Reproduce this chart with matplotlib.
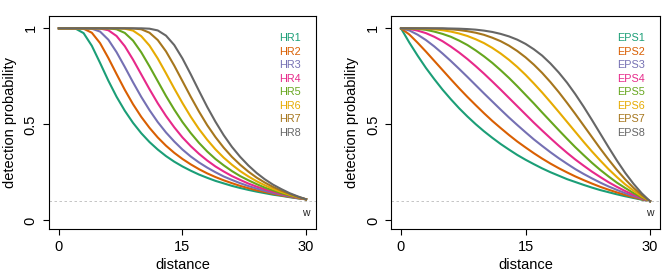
import matplotlib
matplotlib.use("Agg")
import matplotlib.pyplot as plt

plt.rcParams['font.family'] = ['Liberation Sans', 'DejaVu Sans']

# distances 0..30 and detection probabilities
distance = list(range(31))

hr1 = [1.000, 1.000, 0.999, 0.975, 0.909, 0.820, 0.728, 0.644, 0.571, 0.508, 0.454, 0.408, 0.369, 0.335, 0.306, 0.281,
       0.259, 0.239, 0.222, 0.206, 0.193, 0.180, 0.169, 0.159, 0.150, 0.142, 0.134, 0.128, 0.121, 0.115, 0.110]
hr2 = [1.000, 1.000, 1.000, 0.998, 0.977, 0.923, 0.846, 0.762, 0.680, 0.605, 0.539, 0.482, 0.432, 0.389, 0.352, 0.320,
       0.292, 0.267, 0.245, 0.226, 0.209, 0.194, 0.180, 0.168, 0.157, 0.148, 0.139, 0.130, 0.123, 0.116, 0.110]
hr3 = [1.000, 1.000, 1.000, 1.000, 0.998, 0.983, 0.941, 0.876, 0.799, 0.719, 0.643, 0.574, 0.512, 0.458, 0.411, 0.369,
       0.333, 0.302, 0.275, 0.251, 0.229, 0.211, 0.194, 0.179, 0.166, 0.154, 0.143, 0.134, 0.125, 0.117, 0.110]
hr4 = [1.000, 1.000, 1.000, 1.000, 1.000, 0.999, 0.990, 0.960, 0.907, 0.837, 0.760, 0.683, 0.610, 0.544, 0.485, 0.432,
       0.387, 0.347, 0.312, 0.281, 0.255, 0.231, 0.211, 0.192, 0.176, 0.162, 0.149, 0.138, 0.128, 0.118, 0.110]
hr5 = [1.000, 1.000, 1.000, 1.000, 1.000, 1.000, 1.000, 0.995, 0.976, 0.936, 0.875, 0.802, 0.725, 0.648, 0.577, 0.512,
       0.455, 0.404, 0.359, 0.320, 0.287, 0.257, 0.231, 0.209, 0.189, 0.171, 0.156, 0.142, 0.130, 0.120, 0.110]
hr6 = [1.000, 1.000, 1.000, 1.000, 1.000, 1.000, 1.000, 1.000, 0.998, 0.988, 0.959, 0.910, 0.843, 0.766, 0.687, 0.611,
       0.540, 0.476, 0.420, 0.370, 0.327, 0.290, 0.257, 0.229, 0.204, 0.183, 0.164, 0.148, 0.134, 0.121, 0.110]
hr7 = [1.000, 1.000, 1.000, 1.000, 1.000, 1.000, 1.000, 1.000, 1.000, 0.999, 0.995, 0.977, 0.939, 0.880, 0.806, 0.725,
       0.644, 0.567, 0.496, 0.434, 0.379, 0.331, 0.290, 0.254, 0.223, 0.197, 0.174, 0.155, 0.138, 0.123, 0.110]
hr8 = [1.000, 1.000, 1.000, 1.000, 1.000, 1.000, 1.000, 1.000, 1.000, 1.000, 1.000, 0.998, 0.989, 0.962, 0.913, 0.843,
       0.761, 0.675, 0.591, 0.514, 0.444, 0.383, 0.331, 0.286, 0.247, 0.214, 0.186, 0.163, 0.142, 0.125, 0.110]

eps1 = [1.000, 0.926, 0.858, 0.794, 0.736, 0.681, 0.631, 0.584, 0.541, 0.501, 0.464, 0.430, 0.398, 0.369, 0.341, 0.316,
        0.293, 0.271, 0.251, 0.233, 0.215, 0.200, 0.185, 0.171, 0.158, 0.147, 0.136, 0.126, 0.117, 0.108, 0.100]
eps2 = [1.000, 0.968, 0.925, 0.879, 0.831, 0.783, 0.735, 0.688, 0.643, 0.600, 0.558, 0.518, 0.481, 0.445, 0.411, 0.380,
        0.350, 0.322, 0.296, 0.272, 0.250, 0.229, 0.210, 0.192, 0.175, 0.160, 0.146, 0.133, 0.121, 0.110, 0.100]
eps3 = [1.000, 0.989, 0.967, 0.939, 0.906, 0.869, 0.830, 0.789, 0.747, 0.704, 0.661, 0.619, 0.577, 0.536, 0.497, 0.459,
        0.422, 0.388, 0.355, 0.324, 0.295, 0.267, 0.242, 0.219, 0.197, 0.177, 0.159, 0.142, 0.127, 0.113, 0.100]
eps4 = [1.000, 0.997, 0.988, 0.975, 0.956, 0.933, 0.905, 0.874, 0.840, 0.803, 0.764, 0.723, 0.681, 0.638, 0.595, 0.552,
        0.509, 0.468, 0.428, 0.389, 0.352, 0.317, 0.285, 0.254, 0.226, 0.199, 0.175, 0.153, 0.134, 0.116, 0.100]
eps5 = [1.000, 0.999, 0.997, 0.992, 0.983, 0.971, 0.956, 0.936, 0.913, 0.885, 0.854, 0.820, 0.782, 0.742, 0.699, 0.654,
        0.609, 0.562, 0.516, 0.470, 0.425, 0.381, 0.340, 0.300, 0.263, 0.229, 0.197, 0.169, 0.143, 0.120, 0.100]
eps6 = [1.000, 1.000, 0.999, 0.998, 0.995, 0.990, 0.983, 0.973, 0.960, 0.943, 0.923, 0.898, 0.869, 0.836, 0.799, 0.758,
        0.713, 0.666, 0.616, 0.565, 0.513, 0.461, 0.409, 0.359, 0.312, 0.267, 0.226, 0.188, 0.155, 0.125, 0.100]
eps7 = [1.000, 1.000, 1.000, 1.000, 0.999, 0.998, 0.995, 0.991, 0.985, 0.977, 0.966, 0.951, 0.933, 0.910, 0.882, 0.849,
        0.811, 0.768, 0.720, 0.668, 0.612, 0.554, 0.494, 0.434, 0.374, 0.317, 0.263, 0.214, 0.170, 0.132, 0.100]
eps8 = [1.000, 1.000, 1.000, 1.000, 1.000, 1.000, 0.999, 0.998, 0.996, 0.993, 0.988, 0.981, 0.971, 0.958, 0.941, 0.919,
        0.891, 0.858, 0.817, 0.770, 0.717, 0.657, 0.592, 0.523, 0.452, 0.381, 0.312, 0.248, 0.191, 0.141, 0.100]

hr_names = ['HR1', 'HR2', 'HR3', 'HR4', 'HR5', 'HR6', 'HR7', 'HR8']
eps_names = ['EPS1', 'EPS2', 'EPS3', 'EPS4', 'EPS5', 'EPS6', 'EPS7', 'EPS8']
colors = ['#1B9E77', '#D95F02', '#7570B3', '#E7298A', '#66A61E', '#E6AB02', '#A6761D', '#666666']

hr_curves = [hr1, hr2, hr3, hr4, hr5, hr6, hr7, hr8]
eps_curves = [eps1, eps2, eps3, eps4, eps5, eps6, eps7, eps8]

fig = plt.figure(figsize=(6.69, 2.78), dpi=100)
ax1 = fig.add_axes([0.0732, 0.1773, 0.3991, 0.7651])
ax2 = fig.add_axes([0.5845, 0.1773, 0.4021, 0.7651])

for ax, names, curves, lx in [(ax1, hr_names, hr_curves, 0.862), (ax2, eps_names, eps_curves, 0.84)]:
    for i in range(8):
        ax.plot(distance, curves[i], color=colors[i], lw=1.5)
        ax.text(lx, 0.895 - i * 0.0635, names[i], color=colors[i], fontsize=7.8,
                transform=ax.transAxes, va='center', ha='left')
    ax.axhline(0.1, color='#bbbbbb', lw=0.6, ls=(0, (3, 3)))
    ax.text(30, 0.04, 'w', fontsize=7.5, ha='center', va='center', color='#222222')
    ax.set_xlim(-1.2, 31.2)
    ax.set_ylim(-0.043, 1.064)
    ax.set_xticks([0, 15, 30])
    ax.set_yticks([0, 0.5, 1])
    ax.set_yticklabels(['0', '0.5', '1'], rotation=90, va='center')
    ax.tick_params(direction='out', length=4, width=0.8, labelsize=10.5, pad=4)
    ax.set_xlabel('distance', fontsize=10.5, labelpad=3)
    ax.set_ylabel('detection probability', fontsize=10.5, labelpad=5)
    for s in ax.spines.values():
        s.set_linewidth(0.8)

fig.savefig('out.png', dpi=100)
